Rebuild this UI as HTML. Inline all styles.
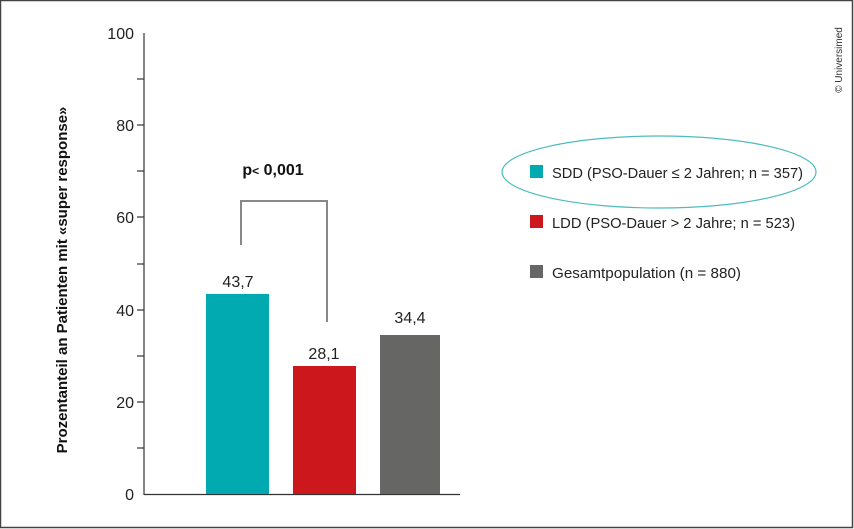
<!DOCTYPE html>
<html><head><meta charset="utf-8"><style>
html,body{margin:0;padding:0;background:#fff}
body{width:854px;height:529px;overflow:hidden}
svg{display:block;font-family:"Liberation Sans",sans-serif}
</style></head><body>
<svg width="854" height="529" viewBox="0 0 854 529">
<rect x="0.5" y="0.5" width="852" height="527" fill="#fff" stroke="#444" stroke-width="1.5"/>
<g stroke="#333" stroke-width="1.2">
<line x1="144" y1="33" x2="144" y2="495"/>
<line x1="144" y1="494.5" x2="460" y2="494.5"/>
<line x1="137" y1="79" x2="144" y2="79"/>
<line x1="137" y1="125" x2="144" y2="125"/>
<line x1="137" y1="171" x2="144" y2="171"/>
<line x1="137" y1="217" x2="144" y2="217"/>
<line x1="137" y1="264" x2="144" y2="264"/>
<line x1="137" y1="310" x2="144" y2="310"/>
<line x1="137" y1="356" x2="144" y2="356"/>
<line x1="137" y1="402" x2="144" y2="402"/>
<line x1="137" y1="448" x2="144" y2="448"/>
</g>
<g font-size="16" fill="#222" text-anchor="end">
<text x="134" y="39">100</text>
<text x="134" y="131">80</text>
<text x="134" y="223">60</text>
<text x="134" y="316">40</text>
<text x="134" y="408">20</text>
<text x="134" y="500">0</text>
</g>
<text transform="translate(67,280) rotate(-90)" text-anchor="middle" font-size="15" font-weight="bold" fill="#111">Prozentanteil an Patienten mit «super response»</text>
<rect x="206" y="294" width="63" height="200" fill="#00aab0"/>
<rect x="293" y="366" width="63" height="128" fill="#cc181c"/>
<rect x="380" y="335" width="60" height="159" fill="#666664"/>
<g font-size="16" fill="#222" text-anchor="middle">
<text x="238" y="287">43,7</text>
<text x="324" y="359">28,1</text>
<text x="410" y="323">34,4</text>
</g>
<polyline points="241,245 241,201 327,201 327,322" fill="none" stroke="#888" stroke-width="2"/>
<text x="273" y="175" text-anchor="middle" font-size="16" font-weight="bold" fill="#111">p<tspan font-size="12">&lt;</tspan> 0,001</text>
<ellipse cx="659" cy="172" rx="157" ry="36" fill="none" stroke="#4cbcbc" stroke-width="1.2"/>
<rect x="530" y="165" width="13" height="13" fill="#00aab0"/>
<rect x="530" y="215" width="13" height="13" fill="#cc181c"/>
<rect x="530" y="265" width="13" height="13" fill="#666664"/>
<g font-size="15" fill="#222">
<text x="552" y="178" textLength="251" lengthAdjust="spacingAndGlyphs">SDD (PSO-Dauer ≤ 2 Jahren; n = 357)</text>
<text x="552" y="228" textLength="243" lengthAdjust="spacingAndGlyphs">LDD (PSO-Dauer &gt; 2 Jahre; n = 523)</text>
<text x="552" y="278" textLength="189" lengthAdjust="spacingAndGlyphs">Gesamtpopulation (n = 880)</text>
</g>
<text transform="translate(842,60) rotate(-90)" text-anchor="middle" font-size="10" fill="#333">© Universimed</text>
</svg>
</body></html>
